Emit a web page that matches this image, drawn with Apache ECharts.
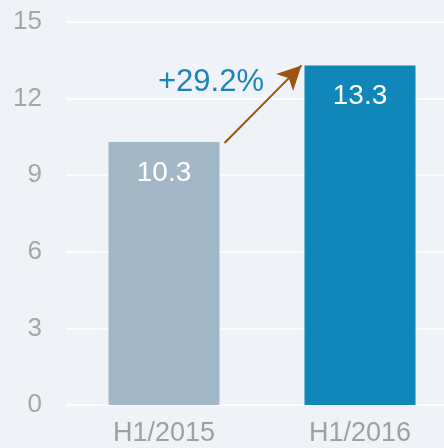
<!DOCTYPE html>
<html>
<head>
<meta charset="utf-8">
<script src="https://cdn.jsdelivr.net/npm/echarts@6/dist/echarts.min.js"></script>
<style>
  html, body { margin: 0; padding: 0; background: #eff3f8; }
  #chart { width: 444px; height: 448px; }
</style>
</head>
<body>
<div id="chart"></div>
<script>
// data
const categories = ['H1/2015', 'H1/2016'];
const values = [10.3, 13.3];
const barColors = ['#a3b8c7', '#1186b9'];
const growthLabel = '+29.2%';
const yTicks = { min: 0, max: 15, interval: 3 };

const font = 'Liberation Sans, Arial, sans-serif';
const chart = echarts.init(document.getElementById('chart'));

chart.setOption({
  backgroundColor: '#eff3f8',
  animation: false,
  grid: { left: 66, width: 392, top: 22, bottom: 43, outerBoundsMode: 'none', containLabel: false },
  xAxis: {
    type: 'category',
    data: categories,
    axisLine: { show: false },
    axisTick: { show: false },
    axisLabel: { color: '#a0a0a0', fontSize: 27, fontFamily: font, margin: 15 }
  },
  yAxis: {
    type: 'value',
    min: yTicks.min,
    max: yTicks.max,
    interval: yTicks.interval,
    axisLine: { show: false },
    axisTick: { show: false },
    axisLabel: { color: '#a6a6a6', fontSize: 26, fontFamily: font, margin: 24 },
    splitLine: { lineStyle: { color: '#ffffff', width: 1.5 } }
  },
  series: [{
    type: 'bar',
    barWidth: 111,
    data: values.map((v, i) => ({ value: v, itemStyle: { color: barColors[i] } })),
    label: {
      show: true,
      position: 'insideTop',
      distance: 17,
      color: '#ffffff',
      fontSize: 28,
      fontFamily: font
    }
  }]
});

// 箭头和增长率标注
const p1 = chart.convertToPixel({ xAxisIndex: 0, yAxisIndex: 0 }, [categories[0], values[0]]);
const p2 = chart.convertToPixel({ xAxisIndex: 0, yAxisIndex: 0 }, [categories[1], values[1]]);
const half = 111 / 2;
const start = [p1[0] + half + 5, p1[1] + 1];
const end = [p2[0] - half - 3, p2[1]];

chart.setOption({
  series: [{
    markLine: {
      silent: true,
      symbol: ['none', 'arrow'],
      symbolSize: [18, 24],
      label: { show: false },
      lineStyle: { color: '#9a5510', width: 2, type: 'solid' },
      data: [[{ x: start[0], y: start[1] }, { x: end[0], y: end[1] }]]
    }
  }],
  graphic: [{
    type: 'text',
    x: 211,
    y: 82,
    style: {
      text: growthLabel,
      fill: '#1a86b8',
      font: '31px ' + font,
      textAlign: 'center',
      textVerticalAlign: 'middle'
    }
  }]
});
</script>
</body>
</html>
